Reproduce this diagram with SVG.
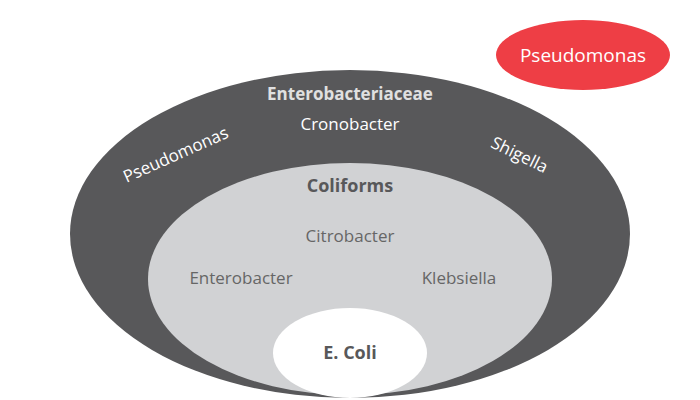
<svg xmlns="http://www.w3.org/2000/svg" width="700" height="400" viewBox="0 0 700 400">
<style>
text{font-family:"Open Sans","Liberation Sans",sans-serif;text-anchor:middle}
.w{fill:#fff;font-size:17px}
.g{fill:#666;font-size:17px}
</style>
<rect width="700" height="400" fill="#fff"/>
<g id="enterobacteriaceae">
<ellipse cx="350" cy="234" rx="280" ry="164" fill="#58585a"/>
<text x="350" y="100" font-size="17" font-weight="bold" fill="#e0e0e0">Enterobacteriaceae</text>
<text class="w" x="350" y="130">Cronobacter</text>
<text class="w" transform="translate(178,160) rotate(-24)">Pseudomonas</text>
<text class="w" transform="translate(517,160) rotate(26)">Shigella</text>
</g>
<g id="coliforms">
<ellipse cx="350" cy="279" rx="202" ry="116" fill="#d1d2d4"/>
<text x="350" y="192" font-size="18" font-weight="bold" fill="#58585a">Coliforms</text>
<text class="g" x="350" y="242">Citrobacter</text>
<text class="g" x="241" y="284">Enterobacter</text>
<text class="g" x="459" y="284">Klebsiella</text>
</g>
<g id="ecoli">
<ellipse cx="350" cy="353" rx="77" ry="45" fill="#fff"/>
<text x="350" y="359" font-size="18" font-weight="bold" fill="#58585a">E. Coli</text>
</g>
<g id="pseudomonas">
<ellipse cx="583" cy="55" rx="87" ry="35" fill="#ee3e45"/>
<text x="583" y="62" font-size="19" fill="#fff">Pseudomonas</text>
</g>
<g id="connectors"/>
</svg>
